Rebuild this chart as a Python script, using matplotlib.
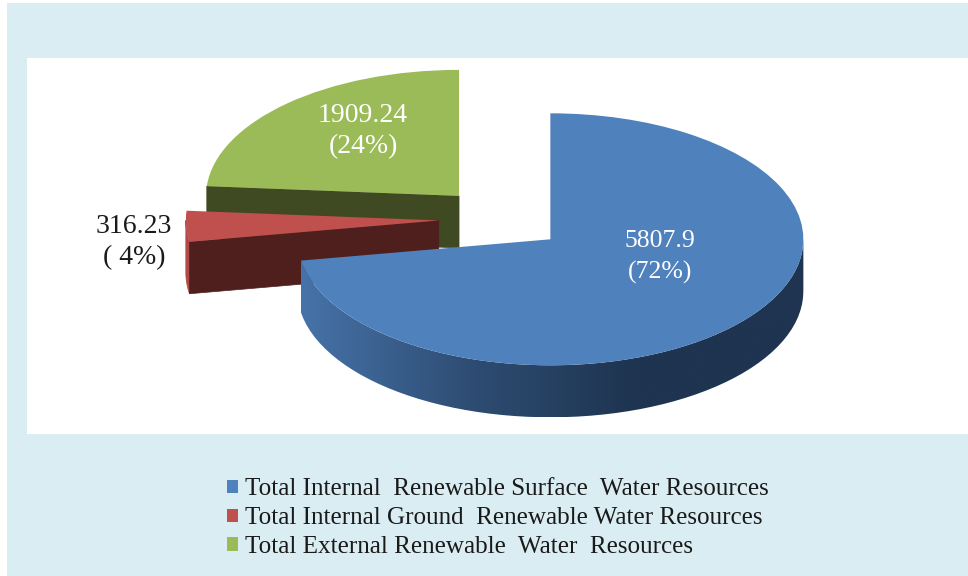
import numpy as np
import matplotlib
matplotlib.use('Agg')
import matplotlib.pyplot as plt
from matplotlib.colors import LinearSegmentedColormap
from matplotlib.patches import Polygon, Rectangle

labels = ['Total Internal  Renewable Surface  Water Resources',
          'Total Internal Ground  Renewable Water Resources',
          'Total External Renewable  Water  Resources']
values = [5807.9, 316.23, 1909.24]
value_text = ['5807.9\n(72%)', '316.23\n( 4%)', '1909.24\n(24%)']
explode = [0.25, 0.25, 0.25]
colors = ['#4F81BD', '#C0504D', '#9BBB59']

plt.rcParams['font.family'] = ['Liberation Serif', 'DejaVu Serif']

W, H = 968, 576
fig = plt.figure(figsize=(W / 100, H / 100), dpi=100, facecolor='white')

# page background, in pixels
bg = fig.add_axes([0, 0, 1, 1])
bg.set_xlim(0, W)
bg.set_ylim(H, 0)
bg.axis('off')
bg.add_patch(Rectangle((7, 3), W - 7, H - 3, color='#DAEDF3', lw=0))
bg.add_patch(Rectangle((27, 58), W - 27, 376, color='white', lw=0))

# pie centre and radii in pixels, the axes get stretched so the circle is flat
cx, cy, rx, ry, depth = 502, 219, 253, 126, 52
ax = fig.add_axes([0, 0, 1, 1], zorder=2)
wedges, _ = ax.pie(values, explode=explode, colors=colors, startangle=90,
                   counterclock=False, radius=1, center=(0, 0))
ax.patch.set_alpha(0)
d = depth / ry


def arc(w, a, b, n=60):
    t = np.radians(np.linspace(a, b, n))
    return np.column_stack([w.center[0] + np.cos(t), w.center[1] + np.sin(t)])


def wall(w, a, color, z):
    # flat cut face of a slice, from the apex to the rim at angle a
    t = np.radians(a)
    x0, y0 = w.center
    x1, y1 = x0 + np.cos(t), y0 + np.sin(t)
    ax.add_patch(Polygon([(x0, y0), (x1, y1), (x1, y1 - d), (x0, y0 - d)],
                         fc=color, ec=color, lw=0.5, zorder=z))


def rim_shape(w, a, b):
    top = arc(w, a, b)
    return np.vstack([top, (top - [0, d])[::-1]])


blue, red, green = wedges

# back to front: green, red, blue
# with counterclock=False the angles run from -270 up to 90
wall(green, green.theta2, '#3F4A22', 1)
green.set_zorder(2)
ax.add_patch(Polygon(rim_shape(red, -180, red.theta2), fc='#B04A48', ec='#B04A48',
                     lw=0.5, zorder=3))
wall(red, red.theta2, '#4F1F1E', 4)
red.set_zorder(5)

# blue rim is shaded from left to right
shade = LinearSegmentedColormap.from_list('rim', ['#4673A9', '#2E4D73', '#1E3450', '#1E3450'])
outline = rim_shape(blue, blue.theta1, 0)
x0, x1 = outline[:, 0].min(), outline[:, 0].max()
y0, y1 = outline[:, 1].min(), outline[:, 1].max()
grad = ax.imshow(np.linspace(0, 1, 256).reshape(1, -1), cmap=shade, aspect='auto',
                 extent=(x0, x1, y0, y1), zorder=6)
grad.set_clip_path(Polygon(outline, transform=ax.transData))
blue.set_zorder(7)

ax.set_aspect('auto')
ax.set_xlim(-cx / rx, (W - cx) / rx)
ax.set_ylim((cy - H) / ry, cy / ry)

# value labels, placed in pixels
ax.text(660, 257, value_text[0], transform=bg.transData, color='white', fontsize=18.5,
        ha='center', va='center', linespacing=1.5, zorder=10)
ax.text(134, 242, value_text[1], transform=bg.transData, color='#1A1A1A', fontsize=20,
        ha='center', va='center', linespacing=1.3, zorder=10)
ax.text(363, 131, value_text[2], transform=bg.transData, color='white', fontsize=20,
        ha='center', va='center', linespacing=1.35, zorder=10)

ax.legend(wedges, labels, loc='lower left', bbox_to_anchor=(227 / W, 1 - 558 / H),
          frameon=False, fontsize=18.1, labelspacing=0.27, handlelength=0.44,
          handleheight=0.44, handletextpad=0.28, borderpad=0, borderaxespad=0,
          labelcolor='#1A1A1A')

fig.savefig('out.png', dpi=100)
